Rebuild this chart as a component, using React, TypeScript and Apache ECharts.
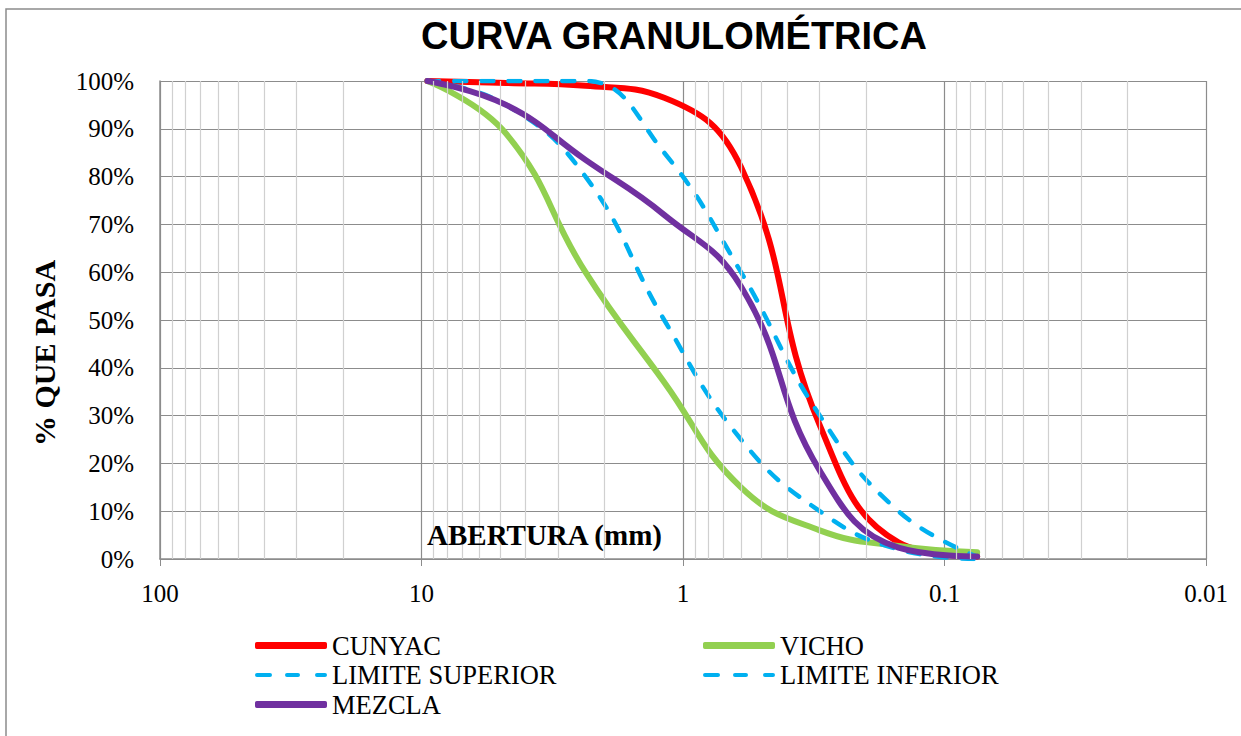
import React, { useEffect, useRef } from "react";
import * as echarts from "echarts";

// Sieve openings (mm)
const SIEVES = [9.5, 4.75, 2.36, 1.18, 0.6, 0.3, 0.15, 0.075];
// % passing
const CUNYAC = [100, 99.6, 99, 96.5, 82, 28, 3.5, 0.5];
const VICHO = [100, 89, 60, 37, 15, 6, 2.7, 1.4];
const LIMITE_SUPERIOR = [100, 100, 100, 85, 60, 30, 10, 0.5];
const LIMITE_INFERIOR = [100, 95, 80, 50, 25, 10, 2, 0];
const MEZCLA = [100, 95, 83.5, 72, 57, 18.5, 2.4, 0.5];

const DECADES = [0.01, 0.1, 1, 10];
const MINOR_STEPS = [2, 3, 4, 5, 6, 7, 8, 9];

const TITLE = "CURVA GRANULOMÉTRICA";
const X_NAME = "ABERTURA (mm)";
const Y_NAME = "% QUE PASA";

const SERIF = "'Liberation Serif', 'Times New Roman', serif";
const SANS = "'Liberation Sans', Arial, sans-serif";

const SOLID_ICON = "roundRect";
const DASH_ICON =
  "path://M0,0L0.01,0L0,0.01Z M0,7L0.01,7L0,6.99Z M2,1.5H15A2,2 0 0 1 15,5.5H2A2,2 0 0 1 2,1.5Z M32,1.5H43A2,2 0 0 1 43,5.5H32A2,2 0 0 1 32,1.5Z M62,1.5H70A2,2 0 0 1 70,5.5H62A2,2 0 0 1 62,1.5Z";

function pairs(ys: number[]) {
  return SIEVES.map((x, i) => [x, ys[i]]);
}

export default function App() {
  const ref = useRef<HTMLDivElement>(null);
  useEffect(() => {
    document.body.style.margin = "0";
    if (!ref.current) return;
    const chart = echarts.init(ref.current, null, { renderer: "svg" });
    const minorLines: any[] = [];
    DECADES.forEach((d) =>
      MINOR_STEPS.forEach((s) => minorLines.push({ xAxis: +(d * s).toPrecision(6) }))
    );
    const SMOOTH = 0.45;
    const solid = (name: string, color: string, ys: number[]) => ({
      name,
      type: "line",
      data: pairs(ys),
      smooth: SMOOTH,
      symbol: "none",
      z: 3,
      lineStyle: { color, width: 6, cap: "round", join: "round" },
      itemStyle: { color },
    });
    const dashed = (name: string, ys: number[]) => ({
      name,
      type: "line",
      data: pairs(ys),
      smooth: SMOOTH,
      symbol: "none",
      z: 3,
      lineStyle: { color: "#00B0F0", width: 4.5, type: [12, 15], cap: "round" },
      itemStyle: { color: "#00B0F0" },
    });
    const legendCommon = {
      orient: "vertical",
      top: 632,
      padding: 0,
      itemWidth: 72,
      itemHeight: 7,
      itemGap: 2.5,
      itemStyle: { borderWidth: 0 },
      textStyle: { color: "#000", fontFamily: SERIF, fontSize: 26.5, lineHeight: 27 },
    };
    chart.setOption({
      animation: false,
      grid: { left: 160, right: 35, top: 81, bottom: 177, containLabel: false },
      xAxis: {
        type: "log",
        logBase: 10,
        min: 0.01,
        max: 100,
        inverse: true,
        axisLine: { show: true, lineStyle: { color: "#8c8c8c", width: 1.5 } },
        axisTick: { show: true, inside: false, length: 7, lineStyle: { color: "#8c8c8c" } },
        axisLabel: {
          color: "#000",
          fontFamily: SERIF,
          fontSize: 25,
          margin: 22,
          formatter: (v: number) => String(v),
        },
        splitLine: { show: true, lineStyle: { color: "#8c8c8c", width: 1.2 } },
      },
      yAxis: {
        type: "value",
        min: 0,
        max: 100,
        interval: 10,
        axisLine: { show: true, lineStyle: { color: "#8c8c8c", width: 1.5 } },
        axisTick: { show: false },
        axisLabel: { color: "#000", fontFamily: SERIF, fontSize: 25, margin: 26, formatter: "{value}%" },
        splitLine: { show: true, lineStyle: { color: "#8c8c8c", width: 1.2 } },
      },
      legend: [
        {
          ...legendCommon,
          left: 255,
          data: [
            { name: "CUNYAC", icon: SOLID_ICON },
            { name: "LIMITE SUPERIOR", icon: DASH_ICON },
            { name: "MEZCLA", icon: SOLID_ICON },
          ],
        },
        {
          ...legendCommon,
          left: 703,
          data: [
            { name: "VICHO", icon: SOLID_ICON },
            { name: "LIMITE INFERIOR", icon: DASH_ICON },
          ],
        },
      ],
      graphic: [
        {
          type: "rect",
          shape: { x: 6, y: 9, width: 1260, height: 760 },
          style: { fill: "none", stroke: "#8c8c8c", lineWidth: 1.5 },
          silent: true,
          z: 0,
        },
        {
          type: "text",
          x: 674,
          y: 36,
          style: {
            text: TITLE,
            textAlign: "center",
            textVerticalAlign: "middle",
            font: `bold 38px ${SANS}`,
            fill: "#000",
          },
        },
        {
          type: "text",
          x: 44,
          y: 353,
          rotation: Math.PI / 2,
          style: {
            text: Y_NAME,
            textAlign: "center",
            textVerticalAlign: "middle",
            font: `bold 30px ${SERIF}`,
            fill: "#000",
          },
        },
        {
          type: "text",
          x: 427,
          y: 535,
          z: 10,
          style: {
            text: X_NAME,
            textAlign: "left",
            textVerticalAlign: "middle",
            font: `bold 29px ${SERIF}`,
            fill: "#000",
          },
        },
      ],
      series: [
        {
          name: "minor-grid",
          type: "line",
          data: [],
          z: 1,
          silent: true,
          markLine: {
            silent: true,
            symbol: ["none", "none"],
            label: { show: false },
            lineStyle: { color: "#d0d0d0", width: 1.2, type: "solid" },
            data: minorLines,
          },
        },
        solid("CUNYAC", "#FF0000", CUNYAC),
        solid("VICHO", "#92D050", VICHO),
        dashed("LIMITE SUPERIOR", LIMITE_SUPERIOR),
        dashed("LIMITE INFERIOR", LIMITE_INFERIOR),
        solid("MEZCLA", "#7030A0", MEZCLA),
      ],
    });
    return () => chart.dispose();
  }, []);
  return <div ref={ref} style={{ width: 1241, height: 736 }} />;
}
